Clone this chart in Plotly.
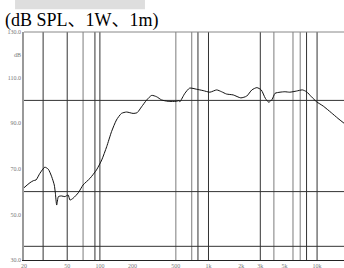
import plotly.graph_objects as go
import math

freq = [20, 22.7, 24.4, 25.8, 28.0, 31.1, 33.5, 36, 38, 38.9, 40, 41.5, 44.2, 47.6, 51, 53, 56.7,
        63.3, 70, 81, 93, 104, 115.5, 128, 142, 158, 176, 202, 220, 242, 270, 300, 333, 370, 425,
        506, 537, 545, 606, 671, 776, 893, 1030, 1190, 1320, 1465, 1690, 1985, 2250, 2510, 2790,
        3060, 3340, 3590, 3860, 4100, 4560, 5050, 5600, 6460, 7320, 8000, 8870, 9900, 11400,
        13520, 15580, 17700]
spl = [61.7, 63.9, 64.8, 65.1, 68.0, 70.7, 69.8, 66.5, 62.9, 59.3, 54.1, 57.8, 58.1, 57.8, 58.5,
       56.3, 57.1, 59.5, 62.9, 65.8, 69.5, 73.9, 79.7, 86.3, 91.4, 94.3, 94.9, 94.3, 94.6, 97.2,
       100.2, 102.2, 101.6, 100.2, 99.6, 99.6, 99.9, 99.4, 103.1, 105.4, 104.9, 104.3, 103.6,
       104.6, 103.8, 102.8, 102.4, 101.1, 101.9, 104.6, 105.6, 104.6, 100.9, 99.2, 100.5, 103.1,
       103.6, 103.8, 103.6, 104.1, 104.6, 103.8, 101.6, 99.4, 97.5, 94.6, 92.1, 90.0]

xtick_vals = [20, 50, 100, 200, 500, 1000, 2000, 3000, 5000, 10000]
xtick_text = ["20", "50", "100", "200", "500", "1k", "2k", "3k", "5k", "10k"]
ytick_vals = [130, 120, 110, 90, 70, 50, 30]
ytick_text = ["130.0", "dB", "110.0", "90.0", "70.0", "50.0", "30.0"]

vlines_dark = [30, 50, 90, 100, 800, 1000, 3000, 8000, 10000]
vlines_gray = [70, 500, 700, 4000, 6000, 7000]
hlines = [100, 60, 36]

fig = go.Figure()
fig.add_trace(go.Scatter(x=freq, y=spl, mode="lines",
                         line=dict(color="#111111", width=1.0, shape="spline", smoothing=0.6),
                         showlegend=False, hoverinfo="skip"))

shapes = []
for f in vlines_gray:
    shapes.append(dict(type="line", xref="x", yref="paper", x0=f, x1=f, y0=0, y1=1,
                       line=dict(color="#9a9a9a", width=1.3), layer="below"))
for f in vlines_dark:
    shapes.append(dict(type="line", xref="x", yref="paper", x0=f, x1=f, y0=0, y1=1,
                       line=dict(color="#333333", width=1), layer="below"))
for h in hlines:
    shapes.append(dict(type="line", xref="paper", yref="y", x0=0, x1=1, y0=h, y1=h,
                       line=dict(color="#333333", width=1), layer="below"))
# top border
shapes.append(dict(type="line", xref="paper", yref="paper", x0=0, x1=1, y0=1, y1=1,
                   line=dict(color="#888888", width=1)))
# gray header bar
shapes.append(dict(type="rect", xref="paper", yref="paper", x0=-0.028, x1=0.378, y0=1.10, y1=1.15,
                   line=dict(width=0), fillcolor="#dedede", layer="below"))

fig.update_layout(
    width=344, height=268,
    margin=dict(l=24, r=0, t=32, b=8),
    paper_bgcolor="white", plot_bgcolor="white",
    shapes=shapes,
    xaxis=dict(type="log", range=[math.log10(20), math.log10(17700)],
               tickvals=xtick_vals, ticktext=xtick_text, showgrid=False,
               showline=True, linecolor="#222222", linewidth=1, ticks="",
               tickfont=dict(size=6, color="#777777", family="Liberation Serif"),
               automargin=False, zeroline=False),
    yaxis=dict(range=[30, 130], tickvals=ytick_vals, ticktext=ytick_text, showgrid=False,
               showline=True, linecolor="#999999", linewidth=1.5, ticks="",
               tickfont=dict(size=6, color="#777777", family="Liberation Serif"),
               automargin=False, zeroline=False),
    annotations=[dict(text="(dB SPL、1W、1m)", xref="paper", yref="paper", x=-0.066, y=0.995,
                      xanchor="left", yanchor="bottom", showarrow=False,
                      font=dict(size=18, color="#000000", family="Liberation Serif, Noto Sans CJK SC"))],
)

fig.write_html("out.html", config={"displayModeBar": False},
               post_script="document.body.style.margin='0';document.body.style.overflow='hidden';")
